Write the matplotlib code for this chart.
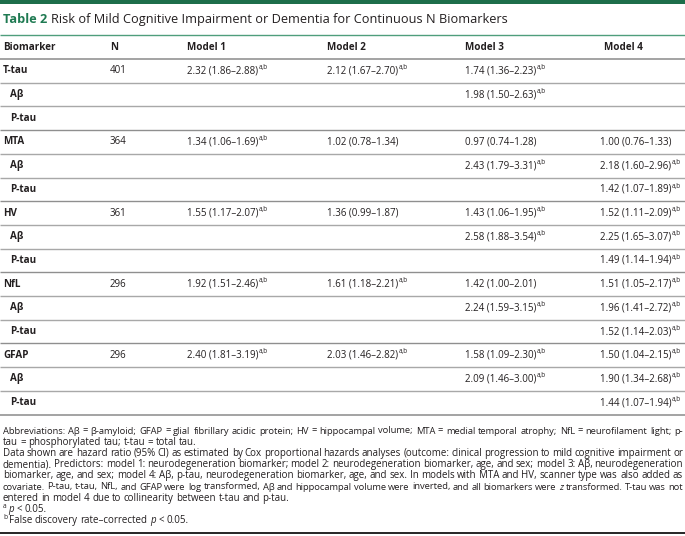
import matplotlib
matplotlib.use("Agg")
import matplotlib.pyplot as plt
from matplotlib.patches import Rectangle

# ---------------- data ----------------
title_label = "Table 2"
title_text = "Risk of Mild Cognitive Impairment or Dementia for Continuous N Biomarkers"
headers = ["Biomarker", "N", "Model 1", "Model 2", "Model 3", "Model 4"]

biomarkers = ["T-tau", "Aβ", "P-tau", "MTA", "Aβ", "P-tau", "HV", "Aβ", "P-tau",
              "NfL", "Aβ", "P-tau", "GFAP", "Aβ", "P-tau"]
is_sub = [False, True, True] * 5
n_values = ["401", "", "", "364", "", "", "361", "", "", "296", "", "", "296", "", ""]

# (hazard ratio, CI low, CI high, significant a,b)
model1 = [(2.32, 1.86, 2.88, True), None, None,
          (1.34, 1.06, 1.69, True), None, None,
          (1.55, 1.17, 2.07, True), None, None,
          (1.92, 1.51, 2.46, True), None, None,
          (2.40, 1.81, 3.19, True), None, None]
model2 = [(2.12, 1.67, 2.70, True), None, None,
          (1.02, 0.78, 1.34, False), None, None,
          (1.36, 0.99, 1.87, False), None, None,
          (1.61, 1.18, 2.21, True), None, None,
          (2.03, 1.46, 2.82, True), None, None]
model3 = [(1.74, 1.36, 2.23, True), (1.98, 1.50, 2.63, True), None,
          (0.97, 0.74, 1.28, False), (2.43, 1.79, 3.31, True), None,
          (1.43, 1.06, 1.95, True), (2.58, 1.88, 3.54, True), None,
          (1.42, 1.00, 2.01, False), (2.24, 1.59, 3.15, True), None,
          (1.58, 1.09, 2.30, True), (2.09, 1.46, 3.00, True), None]
model4 = [None, None, None,
          (1.00, 0.76, 1.33, False), (2.18, 1.60, 2.96, True), (1.42, 1.07, 1.89, True),
          (1.52, 1.11, 2.09, True), (2.25, 1.65, 3.07, True), (1.49, 1.14, 1.94, True),
          (1.51, 1.05, 2.17, True), (1.96, 1.41, 2.72, True), (1.52, 1.14, 2.03, True),
          (1.50, 1.04, 2.15, True), (1.90, 1.34, 2.68, True), (1.44, 1.07, 1.94, True)]

footnote_lines = [
    ("Abbreviations: Aβ = β-amyloid; GFAP = glial fibrillary acidic protein; HV = hippocampal volume; MTA = medial temporal atrophy; NfL = neurofilament light; p-", True),
    ("tau = phosphorylated tau; t-tau = total tau.", False),
    ("Data shown are hazard ratio (95% CI) as estimated by Cox proportional hazards analyses (outcome: clinical progression to mild cognitive impairment or", True),
    ("dementia). Predictors: model 1: neurodegeneration biomarker; model 2: neurodegeneration biomarker, age, and sex; model 3: Aβ, neurodegeneration", True),
    ("biomarker, age, and sex; model 4: Aβ, p-tau, neurodegeneration biomarker, age, and sex. In models with MTA and HV, scanner type was also added as", True),
    ("covariate. P-tau, t-tau, NfL, and GFAP were log transformed, Aβ and hippocampal volume were inverted, and all biomarkers were _z transformed. T-tau was not", True),
    ("entered in model 4 due to collinearity between t-tau and p-tau.", False),
    ("^a _p < 0.05.", False),
    ("^b False discovery rate–corrected _p < 0.05.", False),
]

# ---------------- style ----------------
W, H = 685, 536
FONT = ["Open Sans", "DejaVu Sans"]
FOOT_FONT = ["Open Sans", "DejaVu Sans"]
TXT = "#231f20"
GREEN = "#1d6e4a"
col_x = [3, 110, 187, 327, 465, 600]
header_y = 47
line0 = 59.0
row_h = 23.7
body_size = 7.05
head_size = 7.1

fig = plt.figure(figsize=(W / 100, H / 100), dpi=100)
ax = fig.add_axes([0, 0, 1, 1])
ax.set_xlim(0, W)
ax.set_ylim(H, 0)
ax.axis("off")
renderer = fig.canvas.get_renderer()


def width_of(t):
    return t.get_window_extent(renderer).width


def hline(y, color, lw):
    ax.plot([0, W], [y, y], color=color, lw=lw, solid_capstyle="butt")


# top bar and title
ax.add_patch(Rectangle((0, 0), W, 4.2, color=GREEN, lw=0))
t1 = ax.text(3, 19.5, title_label, fontsize=9.2, fontweight="bold", color="#1f7a52",
             family=FONT, va="center", ha="left")
w1 = width_of(t1)
ax.text(3 + w1 + 3.5, 19.5, title_text, fontsize=9.2, color=TXT, family=FONT,
        va="center", ha="left")
hline(35, "#4f9e7c", 1.0)

# headers
for x, h in zip(col_x, headers):
    ax.text(x + (4 if h == "Model 4" else 0), header_y, h, fontsize=head_size,
            fontweight="bold", color=TXT, family=FONT, va="center", ha="left")
hline(line0, "#8a8a8a", 1.1)


def fmt(v):
    return f"{v[0]:.2f} ({v[1]:.2f}–{v[2]:.2f})"


def cell(x, y, v):
    if v is None:
        return
    t = ax.text(x, y, fmt(v), fontsize=body_size, color=TXT, family=FONT,
                va="center", ha="left")
    if v[3]:
        w = width_of(t)
        ax.text(x + w + 0.6, y - 3.3, "a,b", fontsize=4.7, color=TXT, family=FONT,
                va="center", ha="left")


models = [model1, model2, model3, model4]
for i, name in enumerate(biomarkers):
    yc = line0 + row_h * i + row_h / 2
    ax.text(col_x[0] + (7 if is_sub[i] else 0), yc, name, fontsize=head_size,
            fontweight="bold", color=TXT, family=FONT, va="center", ha="left")
    if n_values[i]:
        ax.text(col_x[1], yc, n_values[i], fontsize=body_size, color=TXT, family=FONT,
                va="center", ha="left")
    for m, mod in enumerate(models):
        cell(col_x[2 + m], yc, mod[i])
    ybot = line0 + row_h * (i + 1)
    if i == len(biomarkers) - 1:
        hline(ybot, "#8a8a8a", 1.1)
    elif (i + 1) % 3 == 0:
        hline(ybot, "#8f8f8f", 1.0)
    else:
        hline(ybot, "#a8a8a8", 1.0)

# footnotes (manually justified)
foot_size = 7.0
foot_y0 = 431
foot_dy = 11.2


def space_width(size):
    probe = ax.text(0, 0, "a a", fontsize=size, family=FOOT_FONT)
    probe2 = ax.text(0, 0, "aa", fontsize=size, family=FOOT_FONT)
    s = width_of(probe) - width_of(probe2)
    probe.remove()
    probe2.remove()
    return s


def draw_foot_line(line, y, justify, size):
    parts = line.split(" ")
    objs = []
    for p in parts:
        style = "normal"
        sup = False
        txt = p
        if txt.startswith("^"):
            sup = True
            txt = txt[1:]
        if txt.startswith("_"):
            style = "italic"
            txt = txt[1:]
        if sup:
            t = ax.text(0, y - 2.8, txt, fontsize=size * 0.68, color=TXT,
                        family=FOOT_FONT, va="center", ha="left")
        else:
            t = ax.text(0, y, txt, fontsize=size, color=TXT, family=FOOT_FONT,
                        style=style, va="center", ha="left")
        objs.append((t, sup))
    widths = [width_of(t) for t, _ in objs]
    space = space_width(size)
    x0, x1 = 3, 683
    total = sum(widths)
    if justify and len(objs) > 1:
        gap = (x1 - x0 - total) / (len(objs) - 1)
        if gap < 0.55 * space:
            for t, _ in objs:
                t.remove()
            return draw_foot_line(line, y, justify, size * 0.97)
    else:
        gap = space
    x = x0
    for (t, sup), w in zip(objs, widths):
        t.set_x(x)
        x += w + (2.0 if sup else gap)


for k, (line, just) in enumerate(footnote_lines):
    draw_foot_line(line, foot_y0 + k * foot_dy, just, foot_size)

ax.add_patch(Rectangle((0, 532), W, 2.2, color="#2b2b2b", lw=0))

fig.savefig("out.png", dpi=100)
